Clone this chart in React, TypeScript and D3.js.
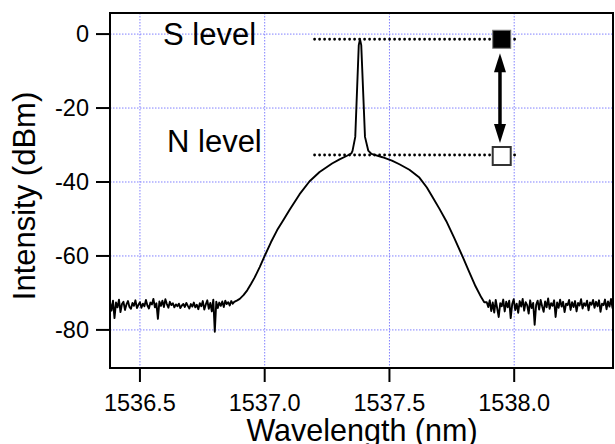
import React from "react";
import * as d3 from "d3";

// ---- data ----
const xTicks = [1536.5, 1537.0, 1537.5, 1538.0];
const yTicks = [0, -20, -40, -60, -80];

const floorLeftStart = 1536.38;
const floorRightStart = 1537.89;
const floorStep = 0.006;

const floorLeftDbm = [
  -72.5, -74.8, -72.1, -76.8, -72.6, -73.9, -71.8, -75.2, -73.0, -72.4,
  -74.6, -73.1, -72.2, -73.8, -74.3, -72.7, -73.5, -72.0, -74.1, -73.2,
  -72.5, -74.0, -72.9, -73.6, -71.9, -73.4, -74.2, -72.6, -73.1, -71.6,
  -73.9, -72.8, -77.0, -72.3, -73.5, -72.1, -73.8, -71.7, -73.0, -74.0,
  -72.4, -73.3, -72.8, -73.9, -73.1, -73.6, -72.9, -74.1, -73.4, -73.0,
  -73.8, -72.7, -73.5, -74.2, -73.0, -73.7, -72.6, -73.9, -73.2, -74.4,
  -72.8, -73.6, -72.2, -74.5, -73.1, -72.0, -74.3, -72.7, -75.0, -71.8,
  -80.5, -72.4, -74.1, -72.6, -73.5, -72.3, -73.8, -72.1, -73.0, -72.5,
  -73.4, -72.2, -72.9, -72.4,
];

const floorRightDbm = [
  -72.5, -73.8, -72.0, -74.9, -72.6, -75.3, -71.9, -74.2, -76.5, -72.8,
  -73.6, -71.8, -75.0, -72.4, -73.9, -72.1, -76.8, -73.0, -71.7, -74.6,
  -72.9, -75.4, -72.2, -73.7, -71.6, -74.8, -72.5, -73.3, -75.6, -72.0,
  -74.1, -72.7, -78.6, -73.2, -72.1, -74.5, -71.9, -73.6, -75.1, -72.3,
  -73.9, -71.5, -74.3, -72.8, -73.5, -72.0, -76.5, -72.6, -74.0, -71.8,
  -73.7, -72.4, -75.2, -72.9, -73.3, -71.9, -74.6, -72.5, -73.8, -72.2,
  -75.0, -72.7, -73.4, -71.7, -74.2, -72.8, -73.5, -72.1, -74.7, -72.6,
  -73.2, -71.9, -74.0, -72.4, -73.6, -72.0, -75.1, -72.9, -73.3, -71.8,
  -74.4, -72.3, -73.7, -71.6, -74.1, -72.5,
];

const bandWavelength = [
  1536.89, 1536.9, 1536.915, 1536.93, 1536.945, 1536.96, 1536.98, 1537.0,
  1537.025, 1537.05, 1537.075, 1537.1, 1537.14, 1537.18, 1537.22, 1537.27,
  1537.3, 1537.33, 1537.347, 1537.352, 1537.363, 1537.377, 1537.382,
  1537.387, 1537.402, 1537.415, 1537.428, 1537.472, 1537.51, 1537.54,
  1537.58, 1537.62, 1537.65, 1537.672, 1537.7, 1537.728, 1537.76, 1537.792,
  1537.82, 1537.845, 1537.868, 1537.88,
];
const bandDbm = [
  -72.0, -71.6, -70.6, -69.3, -67.6, -65.8, -63.0, -60.0,
  -56.3, -53.0, -50.3, -47.5, -43.3, -39.8, -37.3, -35.0,
  -33.9, -32.9, -32.3, -31.6, -27.8, -3.0, -1.4,
  -3.0, -27.8, -31.5, -32.4, -33.3, -34.2, -35.2,
  -36.7, -38.8, -41.5, -44.0, -47.2, -50.6, -55.2, -60.0,
  -64.4, -68.2, -71.2, -72.5,
];

const sLevel = -1.4;
const nLevel = -32.7;
const levelLineRange = [1537.2, 1538.02];
const markerWavelength = 1537.95;
const arrowWavelength = 1537.943;

// ---- layout ----
const W = 615;
const H = 444;
const left = 110;
const right = 613;
const top = 13;
const bottom = 368;
const FONT = "'Liberation Sans', Arial, Helvetica, sans-serif";

export default function App() {
  const x = d3.scaleLinear().domain([1536.38, 1538.396]).range([left, right]);
  const y = d3.scaleLinear().domain([-90.3, 5.7]).range([bottom, top]);

  const pts: [number, number][] = [];
  floorLeftDbm.forEach((v, i) => pts.push([floorLeftStart + i * floorStep, v]));
  bandWavelength.forEach((w, i) => pts.push([w, bandDbm[i]]));
  floorRightDbm.forEach((v, i) => pts.push([floorRightStart + i * floorStep, v]));

  const line = d3
    .line<[number, number]>()
    .x((d) => x(d[0]))
    .y((d) => y(d[1]));

  const ax = x(arrowWavelength);
  const aTop = y(sLevel) + 14;
  const aBot = y(nLevel) - 12;
  const headH = 19;
  const headW = 6;

  const mx = x(markerWavelength);
  const ms = 18;

  return (
    <svg
      width={W}
      height={H}
      style={{ position: "absolute", left: 0, top: 0, background: "#fff" }}
      fontFamily={FONT}
    >
      <rect x={0} y={0} width={W} height={H} fill="#fff" />
      <defs>
        <clipPath id="plot">
          <rect x={left} y={top} width={right - left} height={bottom - top} />
        </clipPath>
      </defs>
      {/* grid */}
      <g stroke="#8080ff" strokeWidth={1} strokeDasharray="1.5,1.5">
        {xTicks.map((t) => (
          <line key={"gx" + t} x1={x(t)} x2={x(t)} y1={top} y2={bottom} />
        ))}
        {yTicks.map((t) => (
          <line key={"gy" + t} x1={left} x2={right} y1={y(t)} y2={y(t)} />
        ))}
      </g>

      {/* spectrum */}
      <path
        d={line(pts) || ""}
        fill="none"
        stroke="#000"
        strokeWidth={1.9}
        strokeLinejoin="round"
        clipPath="url(#plot)"
      />

      {/* level lines */}
      {[sLevel, nLevel].map((lv) => (
        <line
          key={"lv" + lv}
          x1={x(levelLineRange[0])}
          x2={x(levelLineRange[1])}
          y1={y(lv)}
          y2={y(lv)}
          stroke="#000"
          strokeWidth={2.8}
          strokeDasharray="0,5"
          strokeLinecap="round"
        />
      ))}
      <rect
        x={mx - ms / 2}
        y={y(sLevel) - ms / 2}
        width={ms}
        height={ms}
        fill="#000"
        stroke="#777"
        strokeWidth={1}
      />
      <rect
        x={mx - ms / 2}
        y={y(nLevel) - ms / 2 + 1}
        width={ms}
        height={ms}
        fill="#fff"
        stroke="#333"
        strokeWidth={2}
      />

      {/* arrow */}
      <line x1={ax} x2={ax} y1={aTop + 8} y2={aBot - 8} stroke="#000" strokeWidth={3.5} />
      <polygon
        points={`${ax},${aTop} ${ax - headW},${aTop + headH} ${ax + headW},${aTop + headH}`}
        fill="#000"
      />
      <polygon
        points={`${ax},${aBot} ${ax - headW},${aBot - headH} ${ax + headW},${aBot - headH}`}
        fill="#000"
      />

      {/* annotations */}
      <text x={163} y={45} fontSize={31} fill="#000">S level</text>
      <text x={167} y={152} fontSize={31} fill="#000">N level</text>

      {/* frame */}
      <rect
        x={left}
        y={top}
        width={right - left}
        height={bottom - top}
        fill="none"
        stroke="#000"
        strokeWidth={2}
      />

      {/* y ticks */}
      {yTicks.map((t) => (
        <g key={"yt" + t}>
          <line x1={96} x2={left} y1={y(t)} y2={y(t)} stroke="#000" strokeWidth={2} />
          <text
            x={89}
            y={y(t)}
            dy="0.35em"
            textAnchor="end"
            fontSize={23.5}
            fill="#000"
          >
            {t}
          </text>
        </g>
      ))}
      {/* x ticks */}
      {xTicks.map((t) => (
        <g key={"xt" + t}>
          <line x1={x(t)} x2={x(t)} y1={bottom} y2={bottom + 14} stroke="#000" strokeWidth={2} />
          <text x={x(t)} y={411} textAnchor="middle" fontSize={23.5} fill="#000">
            {t.toFixed(1)}
          </text>
        </g>
      ))}

      {/* axis titles */}
      <text x={362} y={441} textAnchor="middle" fontSize={30.5} fill="#000">
        Wavelength (nm)
      </text>
      <text
        transform={`translate(35,196) rotate(-90)`}
        textAnchor="middle"
        fontSize={31}
        fill="#000"
      >
        Intensity (dBm)
      </text>
    </svg>
  );
}
